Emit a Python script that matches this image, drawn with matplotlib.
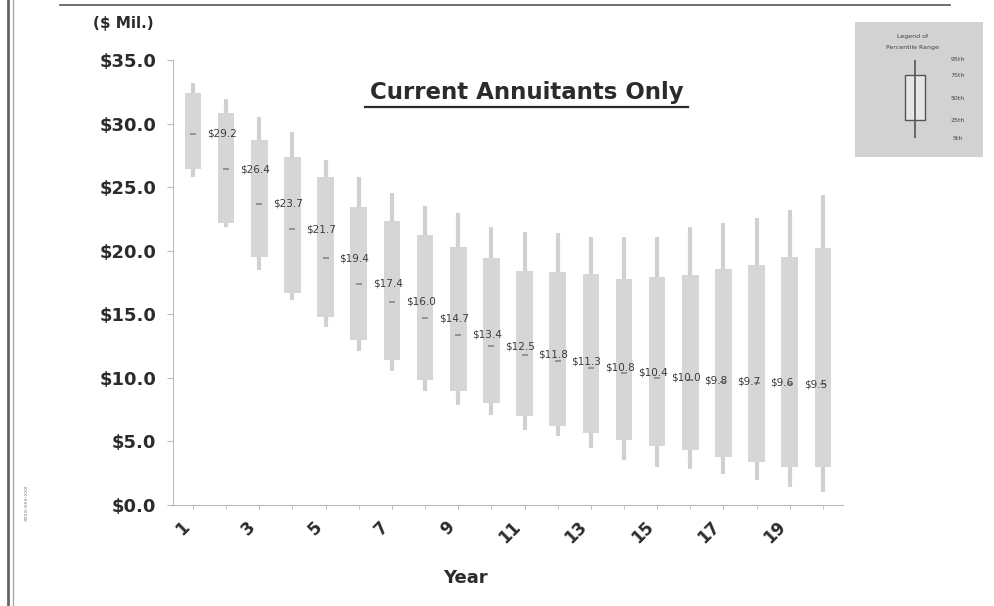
import matplotlib
matplotlib.use("Agg")
import matplotlib.pyplot as plt
from matplotlib.patches import Rectangle
import matplotlib.lines as mlines

plt.rcParams['font.family'] = ['DejaVu Sans']

# data ($ millions)
years = list(range(1, 21))
p95 = [33.2, 31.9, 30.5, 29.3, 27.1, 25.8, 24.5, 23.5, 23.0, 21.9,
       21.5, 21.4, 21.1, 21.1, 21.1, 21.9, 22.2, 22.6, 23.2, 24.4]
p75 = [32.4, 30.8, 28.7, 27.4, 25.8, 23.4, 22.3, 21.2, 20.3, 19.4,
       18.4, 18.3, 18.2, 17.8, 17.9, 18.1, 18.6, 18.9, 19.5, 20.2]
median = [29.2, 26.4, 23.7, 21.7, 19.4, 17.4, 16.0, 14.7, 13.4, 12.5,
          11.8, 11.3, 10.8, 10.4, 10.0, 9.8, 9.7, 9.6, 9.5, 9.5]
p25 = [26.4, 22.2, 19.5, 16.7, 14.8, 13.0, 11.4, 9.8, 9.0, 8.0,
       7.0, 6.2, 5.7, 5.1, 4.6, 4.3, 3.8, 3.4, 3.0, 3.0]
p5 = [25.8, 21.9, 18.5, 16.1, 14.0, 12.1, 10.5, 9.0, 7.9, 7.1,
      5.9, 5.4, 4.5, 3.5, 3.0, 2.8, 2.4, 2.0, 1.4, 1.0]
# the last year's label is hidden behind the plot edge in the scan
median_labels = ["$%.1f" % m for m in median[:-1]]
yticks = [0, 5, 10, 15, 20, 25, 30, 35]
xtick_years = [1, 3, 5, 7, 9, 11, 13, 15, 17, 19]
legend_labels = ["95th", "75th", "50th", "25th", "5th"]

box_c = "#d6d6d6"
wsk_c = "#d0d0d0"
txt_c = "#2b2b2b"

fig = plt.figure(figsize=(9.95, 6.06), dpi=100)
ax = fig.add_axes([0.174, 0.1667, 0.673, 0.7343])

for i, yr in enumerate(years):
    ax.vlines(yr, p5[i], p95[i], color=wsk_c, lw=3, zorder=1)
    ax.bar(yr, p75[i] - p25[i], bottom=p25[i], width=0.5,
           color=box_c, edgecolor="none", zorder=2)
    ax.plot(yr, median[i], marker="_", ms=5, mew=1.2, color="#888888", zorder=3)
for i, lbl in enumerate(median_labels):
    ax.text(years[i] + 0.42, median[i], lbl, fontsize=7.5, color="#3a3a3a",
            ha="left", va="center", zorder=4)

ax.set_xlim(0.4, 20.6)
ax.set_ylim(0, 35)
ax.set_yticks(yticks)
ax.set_yticklabels(["$%.1f" % v for v in yticks], fontsize=13,
                   fontweight="bold", color=txt_c)
ax.set_xticks(xtick_years)
ax.set_xticklabels([str(v) for v in xtick_years], rotation=45, ha="right",
                   va="top", fontsize=12, fontweight="bold", color=txt_c)
ax.set_xticks(years, minor=True)
ax.tick_params(axis="y", length=4, color="#bbbbbb", pad=8)
ax.tick_params(axis="x", which="both", length=3, color="#bbbbbb", pad=6)
for s in ["top", "right"]:
    ax.spines[s].set_visible(False)
for s in ["left", "bottom"]:
    ax.spines[s].set_color("#bbbbbb")
ax.set_xlabel("Year", fontsize=13, fontweight="bold", color=txt_c)
ax.xaxis.set_label_coords(0.437, -0.143)

ax.text(0.528, 0.928, "Current Annuitants Only", transform=ax.transAxes,
        fontsize=16.5, fontweight="bold", color=txt_c, ha="center", va="center")
ax.add_line(mlines.Line2D([0.287, 0.769], [0.895, 0.895], transform=ax.transAxes,
                          color=txt_c, lw=1.6))

fig.text(0.124, 0.962, "($ Mil.)", fontsize=11, fontweight="bold",
         color=txt_c, ha="center", va="center")

# page border bits from the scan
fig.add_artist(mlines.Line2D([0.06, 0.955], [0.992, 0.992], color="#555555", lw=1.2))
fig.add_artist(mlines.Line2D([0.008, 0.008], [0.0, 1.0], color="#666666", lw=2))
fig.add_artist(mlines.Line2D([0.013, 0.013], [0.0, 1.0], color="#aaaaaa", lw=1))
fig.text(0.026, 0.17, "xxxx-xxx-xxx", fontsize=4, rotation=90, color="#888888",
         ha="center", va="center")

# legend inset
lg = fig.add_axes([0.859, 0.741, 0.129, 0.223])
lg.set_xlim(0, 1)
lg.set_ylim(0, 1)
lg.set_facecolor("#d2d2d2")
for s in lg.spines.values():
    s.set_visible(False)
lg.set_xticks([])
lg.set_yticks([])
lg.text(0.45, 0.89, "Legend of", fontsize=4.5, ha="center", va="center", color="#444444")
lg.text(0.45, 0.81, "Percentile Range", fontsize=4.5, ha="center", va="center", color="#444444")
lg.vlines(0.47, 0.14, 0.72, color="#555555", lw=1.2)
lg.add_patch(Rectangle((0.39, 0.27), 0.16, 0.34, facecolor="#e6e6e6",
                       edgecolor="#555555", lw=1.0))
for lbl, yy in zip(legend_labels, [0.72, 0.6, 0.43, 0.27, 0.14]):
    lg.text(0.8, yy, lbl, fontsize=4.5, ha="center", va="center", color="#444444")

fig.savefig("out.png", dpi=100, facecolor="white")
